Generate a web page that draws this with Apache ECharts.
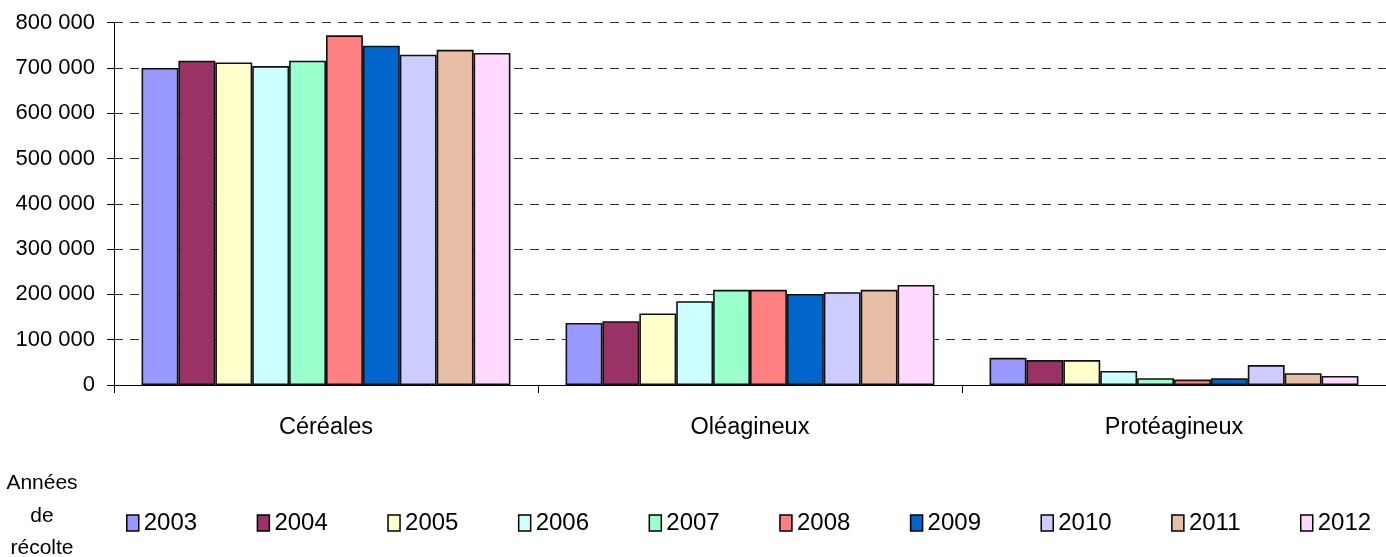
<!DOCTYPE html>
<html>
<head>
<meta charset="utf-8">
<script src="https://cdn.jsdelivr.net/npm/echarts@6/dist/echarts.min.js"></script>
<style>
  html, body { margin: 0; padding: 0; background: #fff; }
  #chart { width: 1386px; height: 557px; }
</style>
</head>
<body>
<div id="chart"></div>
<script>
// categories and series
var categories = ['Céréales', 'Oléagineux', 'Protéagineux'];
var years = ['2003', '2004', '2005', '2006', '2007', '2008', '2009', '2010', '2011', '2012'];
var colors = ['#9999FF', '#993366', '#FFFFCC', '#CCFFFF', '#99FFCC', '#FF8080', '#0066CC', '#CCCCFF', '#E8BFA6', '#FFD9FF'];

// values per year: [Céréales, Oléagineux, Protéagineux]
var v2003 = [700000, 137000, 60000];
var v2004 = [716000, 141000, 55000];
var v2005 = [712000, 158000, 55000];
var v2006 = [704000, 185000, 31000];
var v2007 = [716000, 210000, 15000];
var v2008 = [772000, 210000, 12000];
var v2009 = [749000, 201000, 15000];
var v2010 = [729000, 205000, 44000];
var v2011 = [740000, 210000, 26000];
var v2012 = [733000, 221000, 20000];
var values = [v2003, v2004, v2005, v2006, v2007, v2008, v2009, v2010, v2011, v2012];

var font = "'Liberation Sans', Arial, sans-serif";

var chart = echarts.init(document.getElementById('chart'));

var series = [];
for (var i = 0; i < years.length; i++) {
    series.push({
        name: years[i],
        type: 'bar',
        data: values[i],
        barGap: '0%',
        barCategoryGap: '13%',
        itemStyle: {color: colors[i], borderColor: '#111', borderWidth: 1.6},
        emphasis: {disabled: true}
    });
}

chart.setOption({
    animation: false,
    textStyle: {fontFamily: font},
    grid: {left: 114, right: -12, top: 22.6, bottom: 172},
    xAxis: {
        type: 'category',
        data: categories,
        axisLine: {lineStyle: {color: '#000', width: 1}},
        axisTick: {show: true, length: 8, lineStyle: {color: '#000'}},
        axisLabel: {color: '#000', fontSize: 23.5, margin: 31, fontFamily: font}
    },
    yAxis: {
        type: 'value',
        min: 0,
        max: 800000,
        interval: 100000,
        axisLine: {show: true, lineStyle: {color: '#000', width: 1}},
        axisTick: {show: true, length: 7, lineStyle: {color: '#000'}},
        axisLabel: {
            color: '#000', fontSize: 22, margin: 19, fontFamily: font,
            formatter: function (v) {
                return String(v).replace(/\B(?=(\d{3})+(?!\d))/g, ' ');
            }
        },
        splitLine: {show: true, lineStyle: {color: '#333', width: 1, type: [9, 7]}}
    },
    legend: {
        data: years,
        left: 126,
        top: 511,
        width: 1300,
        padding: 0,
        icon: 'rect',
        itemWidth: 12,
        itemHeight: 16,
        itemGap: 59.5,
        itemStyle: {borderColor: '#000', borderWidth: 1.5},
        textStyle: {color: '#000', fontSize: 24, fontFamily: font}
    },
    graphic: [{
        type: 'text',
        x: 42,
        y: 467,
        style: {
            text: 'Années\nde\nrécolte',
            fill: '#000',
            font: '21px ' + font,
            align: 'center',
            verticalAlign: 'top',
            lineHeight: 32.5
        }
    }],
    series: series
});
</script>
</body>
</html>
